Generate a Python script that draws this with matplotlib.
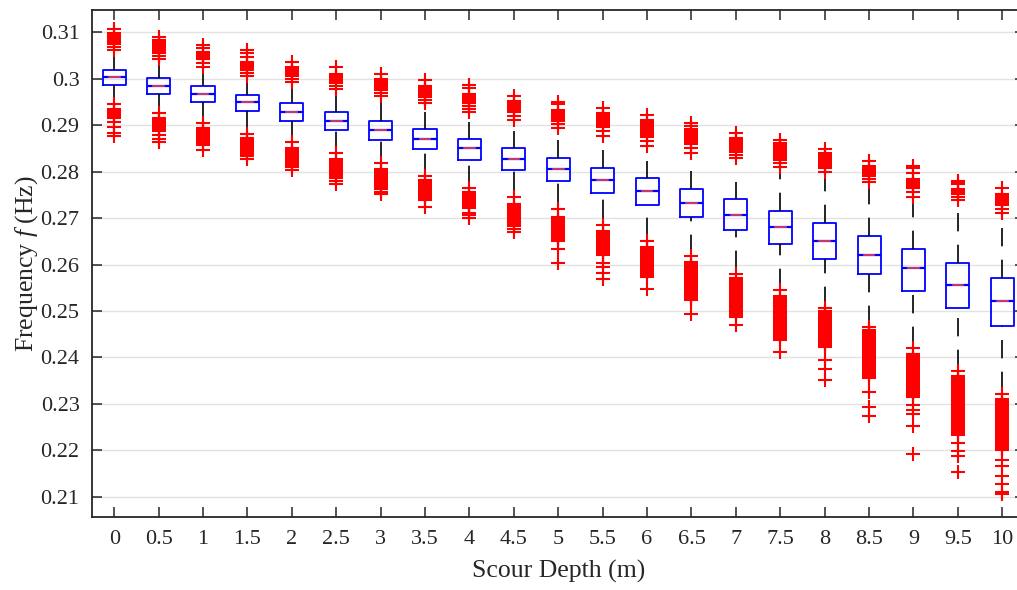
import matplotlib
matplotlib.use("Agg")
import matplotlib.pyplot as plt
from matplotlib.ticker import FixedLocator, FixedFormatter

# Scour depth categories (m)
depth_labels = ['0', '0.5', '1', '1.5', '2', '2.5', '3', '3.5', '4', '4.5', '5',
                '5.5', '6', '6.5', '7', '7.5', '8', '8.5', '9', '9.5', '10']

# Box statistics of the natural frequency (Hz) for each scour depth
q1 = [0.2987, 0.2968, 0.2950, 0.2931, 0.2910, 0.2889, 0.2869, 0.2848, 0.2826, 0.2804, 0.2779,
      0.2755, 0.2728, 0.2702, 0.2674, 0.2644, 0.2612, 0.2579, 0.2544, 0.2507, 0.2468]
median = [0.3004, 0.2985, 0.2967, 0.2950, 0.2929, 0.2909, 0.2890, 0.2870, 0.2850, 0.2828, 0.2806,
          0.2783, 0.2759, 0.2733, 0.2707, 0.2680, 0.2651, 0.2621, 0.2592, 0.2557, 0.2521]
q3 = [0.3020, 0.3001, 0.2984, 0.2966, 0.2947, 0.2929, 0.2910, 0.2891, 0.2871, 0.2850, 0.2830,
      0.2809, 0.2786, 0.2763, 0.2741, 0.2715, 0.2689, 0.2661, 0.2633, 0.2603, 0.2571]
whisker_low = [0.2952, 0.2934, 0.2913, 0.2891, 0.2870, 0.2847, 0.2825, 0.2799, 0.2773, 0.2760, 0.2735,
               0.2700, 0.2662, 0.2624, 0.2590, 0.2552, 0.2513, 0.2473, 0.2427, 0.2378, 0.2330]
whisker_high = [0.3055, 0.3035, 0.3021, 0.3001, 0.2985, 0.2969, 0.2949, 0.2928, 0.2908, 0.2888, 0.2868,
                0.2847, 0.2824, 0.2802, 0.2778, 0.2800, 0.2789, 0.2771, 0.2732, 0.2728, 0.2692]

# Outliers above the upper whisker
outliers_high = [
    [0.3108, 0.3098, 0.3094, 0.3090, 0.3086, 0.3082, 0.3078, 0.3074, 0.3068, 0.3062],
    [0.3091, 0.3084, 0.3080, 0.3076, 0.3072, 0.3068, 0.3064, 0.3060, 0.3056, 0.3050, 0.3043],
    [0.3073, 0.3066, 0.3058, 0.3054, 0.3050, 0.3046, 0.3042, 0.3034, 0.3026],
    [0.3061, 0.3055, 0.3047, 0.3036, 0.3032, 0.3028, 0.3024, 0.3020, 0.3012, 0.3007],
    [0.3037, 0.3026, 0.3022, 0.3018, 0.3014, 0.3010, 0.3006, 0.2999, 0.2993],
    [0.3026, 0.3011, 0.3007, 0.3003, 0.2999, 0.2995, 0.2991, 0.2985, 0.2978],
    [0.3011, 0.3000, 0.2996, 0.2992, 0.2988, 0.2984, 0.2980, 0.2976, 0.2970, 0.2963],
    [0.2998, 0.2985, 0.2981, 0.2977, 0.2973, 0.2969, 0.2965, 0.2961, 0.2955, 0.2948],
    [0.2987, 0.2980, 0.2967, 0.2963, 0.2959, 0.2955, 0.2951, 0.2947, 0.2942, 0.2936, 0.2929],
    [0.2962, 0.2952, 0.2948, 0.2944, 0.2940, 0.2936, 0.2932, 0.2928, 0.2920, 0.2911],
    [0.2950, 0.2945, 0.2933, 0.2929, 0.2925, 0.2921, 0.2917, 0.2913, 0.2909, 0.2902, 0.2895],
    [0.2937, 0.2927, 0.2924, 0.2920, 0.2916, 0.2912, 0.2908, 0.2904, 0.2900, 0.2896, 0.2887, 0.2877],
    [0.2922, 0.2911, 0.2907, 0.2903, 0.2899, 0.2895, 0.2891, 0.2887, 0.2883, 0.2879, 0.2875, 0.2865, 0.2855],
    [0.2904, 0.2898, 0.2892, 0.2888, 0.2884, 0.2880, 0.2876, 0.2872, 0.2868, 0.2864, 0.2860, 0.2850, 0.2841],
    [0.2884, 0.2873, 0.2869, 0.2865, 0.2861, 0.2857, 0.2853, 0.2849, 0.2845, 0.2842, 0.2835, 0.2829],
    [0.2868, 0.2861, 0.2858, 0.2854, 0.2850, 0.2846, 0.2842, 0.2838, 0.2834, 0.2830, 0.2825, 0.2818, 0.2810],
    [0.2848, 0.2840, 0.2836, 0.2832, 0.2828, 0.2824, 0.2820, 0.2816, 0.2812, 0.2808, 0.2800],
    [0.2824, 0.2812, 0.2808, 0.2804, 0.2800, 0.2796, 0.2791, 0.2784, 0.2778],
    [0.2812, 0.2809, 0.2797, 0.2784, 0.2780, 0.2776, 0.2772, 0.2768, 0.2764, 0.2757, 0.2745],
    [0.2781, 0.2776, 0.2773, 0.2763, 0.2759, 0.2755, 0.2751, 0.2745, 0.2738],
    [0.2764, 0.2752, 0.2748, 0.2744, 0.2740, 0.2736, 0.2732, 0.2728, 0.2720, 0.2710],
]

# Outliers below the lower whisker
outliers_low = [
    [0.2946, 0.2936, 0.2932, 0.2928, 0.2924, 0.2920, 0.2916, 0.2908, 0.2897, 0.2884, 0.2877],
    [0.2926, 0.2916, 0.2912, 0.2908, 0.2904, 0.2900, 0.2896, 0.2892, 0.2888, 0.2879, 0.2870, 0.2864],
    [0.2904, 0.2894, 0.2890, 0.2886, 0.2882, 0.2878, 0.2874, 0.2870, 0.2866, 0.2862, 0.2858, 0.2847],
    [0.2882, 0.2873, 0.2869, 0.2865, 0.2861, 0.2857, 0.2853, 0.2849, 0.2845, 0.2841, 0.2837, 0.2834, 0.2828],
    [0.2864, 0.2851, 0.2847, 0.2843, 0.2839, 0.2835, 0.2831, 0.2827, 0.2823, 0.2819, 0.2815, 0.2811, 0.2803],
    [0.2840, 0.2827, 0.2823, 0.2819, 0.2815, 0.2811, 0.2807, 0.2803, 0.2799, 0.2795, 0.2791, 0.2787,
     0.2780, 0.2773],
    [0.2818, 0.2806, 0.2802, 0.2798, 0.2794, 0.2790, 0.2786, 0.2782, 0.2778, 0.2774, 0.2770, 0.2766,
     0.2762, 0.2757, 0.2751],
    [0.2790, 0.2782, 0.2778, 0.2774, 0.2770, 0.2766, 0.2762, 0.2758, 0.2754, 0.2750, 0.2746, 0.2742,
     0.2739, 0.2723],
    [0.2765, 0.2756, 0.2752, 0.2748, 0.2744, 0.2740, 0.2736, 0.2732, 0.2728, 0.2724, 0.2722, 0.2711,
     0.2707, 0.2700],
    [0.2745, 0.2730, 0.2726, 0.2722, 0.2718, 0.2714, 0.2710, 0.2706, 0.2702, 0.2698, 0.2694, 0.2690,
     0.2686, 0.2682, 0.2677, 0.2670],
    [0.2720, 0.2702, 0.2698, 0.2694, 0.2690, 0.2686, 0.2682, 0.2678, 0.2674, 0.2670, 0.2666, 0.2662,
     0.2658, 0.2654, 0.2651, 0.2633, 0.2603],
    [0.2685, 0.2672, 0.2668, 0.2664, 0.2660, 0.2656, 0.2652, 0.2648, 0.2644, 0.2640, 0.2636, 0.2632,
     0.2628, 0.2624, 0.2620, 0.2604, 0.2594, 0.2582, 0.2568],
    [0.2651, 0.2638, 0.2634, 0.2630, 0.2626, 0.2622, 0.2618, 0.2614, 0.2610, 0.2606, 0.2602, 0.2598,
     0.2594, 0.2590, 0.2586, 0.2582, 0.2578, 0.2574, 0.2547],
    [0.2618, 0.2605, 0.2601, 0.2597, 0.2593, 0.2589, 0.2585, 0.2581, 0.2577, 0.2573, 0.2569, 0.2565,
     0.2561, 0.2557, 0.2553, 0.2549, 0.2545, 0.2541, 0.2537, 0.2533, 0.2529, 0.2525, 0.2523, 0.2493],
    [0.2580, 0.2571, 0.2567, 0.2563, 0.2559, 0.2555, 0.2551, 0.2547, 0.2543, 0.2539, 0.2535, 0.2531,
     0.2527, 0.2523, 0.2519, 0.2515, 0.2511, 0.2507, 0.2503, 0.2499, 0.2495, 0.2491, 0.2487, 0.2470],
    [0.2545, 0.2532, 0.2528, 0.2524, 0.2520, 0.2516, 0.2512, 0.2508, 0.2504, 0.2500, 0.2496, 0.2492,
     0.2488, 0.2484, 0.2480, 0.2476, 0.2472, 0.2468, 0.2464, 0.2460, 0.2456, 0.2452, 0.2448, 0.2444,
     0.2440, 0.2437, 0.2412],
    [0.2506, 0.2500, 0.2496, 0.2492, 0.2488, 0.2484, 0.2480, 0.2476, 0.2472, 0.2468, 0.2464, 0.2460,
     0.2456, 0.2452, 0.2448, 0.2444, 0.2440, 0.2436, 0.2432, 0.2428, 0.2425, 0.2422, 0.2394, 0.2376,
     0.2351],
    [0.2466, 0.2460, 0.2456, 0.2452, 0.2448, 0.2444, 0.2440, 0.2436, 0.2432, 0.2428, 0.2424, 0.2420,
     0.2416, 0.2412, 0.2408, 0.2404, 0.2400, 0.2396, 0.2392, 0.2388, 0.2384, 0.2380, 0.2376, 0.2372,
     0.2368, 0.2364, 0.2360, 0.2356, 0.2326, 0.2294, 0.2273],
    [0.2420, 0.2407, 0.2403, 0.2399, 0.2395, 0.2391, 0.2387, 0.2383, 0.2379, 0.2375, 0.2371, 0.2367,
     0.2363, 0.2359, 0.2355, 0.2351, 0.2347, 0.2343, 0.2339, 0.2335, 0.2331, 0.2327, 0.2323, 0.2319,
     0.2315, 0.2298, 0.2287, 0.2279, 0.2252, 0.2193],
    [0.2370, 0.2360, 0.2356, 0.2352, 0.2348, 0.2344, 0.2340, 0.2336, 0.2332, 0.2328, 0.2324, 0.2320,
     0.2316, 0.2312, 0.2308, 0.2304, 0.2300, 0.2296, 0.2292, 0.2288, 0.2284, 0.2280, 0.2276, 0.2272,
     0.2268, 0.2264, 0.2260, 0.2256, 0.2252, 0.2248, 0.2244, 0.2240, 0.2236, 0.2233, 0.2215, 0.2199,
     0.2187, 0.2153],
    [0.2322, 0.2310, 0.2306, 0.2302, 0.2298, 0.2294, 0.2290, 0.2286, 0.2282, 0.2278, 0.2274, 0.2270,
     0.2266, 0.2262, 0.2258, 0.2254, 0.2250, 0.2246, 0.2242, 0.2238, 0.2234, 0.2230, 0.2226, 0.2222,
     0.2218, 0.2214, 0.2210, 0.2206, 0.2202, 0.2200, 0.2179, 0.2166, 0.2144, 0.2128, 0.2110, 0.2105],
]

freq_ticks = [0.21, 0.22, 0.23, 0.24, 0.25, 0.26, 0.27, 0.28, 0.29, 0.30, 0.31]
freq_tick_labels = ['0.21', '0.22', '0.23', '0.24', '0.25', '0.26', '0.27', '0.28', '0.29', '0.3', '0.31']

plt.rcParams['font.family'] = ['Liberation Serif', 'DejaVu Serif']
plt.rcParams['mathtext.fontset'] = 'custom'
plt.rcParams['mathtext.rm'] = 'Liberation Serif'
plt.rcParams['mathtext.it'] = 'Liberation Serif:italic'

fig = plt.figure(figsize=(10.17, 5.90), dpi=100)
ax = fig.add_axes([92 / 1017, 1 - 517 / 590, (1024.5 - 92) / 1017, (517 - 10) / 590])

positions = list(range(len(depth_labels)))
stats = []
for i in positions:
    stats.append(dict(med=median[i], q1=q1[i], q3=q3[i],
                      whislo=whisker_low[i], whishi=whisker_high[i],
                      fliers=outliers_high[i] + outliers_low[i]))

parts = ax.bxp(stats, positions=positions, widths=0.52, showcaps=False,
               boxprops=dict(color='#0000ff', linewidth=1.3),
               medianprops=dict(color='#0000ff', linewidth=1.6),
               whiskerprops=dict(color='black', linewidth=1.2, linestyle=(0, (11, 8))),
               flierprops=dict(marker='+', markeredgecolor='#ff0000', markersize=10.5,
                               markeredgewidth=1.5, linestyle='none'))

# whiskers dashed from the low end upward
for w in parts['whiskers']:
    xs, ys = w.get_data()
    if ys[0] > ys[1]:
        w.set_data(xs[::-1], ys[::-1])

# red centre part of each median line
for i in positions:
    ax.plot([i - 0.12, i + 0.12], [median[i], median[i]], color='#ff4a4a', lw=1.1, zorder=3)

ax.set_xlim(-0.5, 20.5)
ax.set_ylim(0.20563, 0.31482)
ax.xaxis.set_major_locator(FixedLocator(positions))
ax.xaxis.set_major_formatter(FixedFormatter(depth_labels))
ax.yaxis.set_major_locator(FixedLocator(freq_ticks))
ax.yaxis.set_major_formatter(FixedFormatter(freq_tick_labels))

ax.yaxis.grid(True, color='#e2e2e2', linewidth=1.0)
ax.set_axisbelow(True)

ax.tick_params(direction='in', length=7, width=1.1, top=True, right=True,
               labelsize=16, colors='#262626', pad=9)
for s in ax.spines.values():
    s.set_linewidth(1.3)
    s.set_color('#262626')

ax.set_xlabel('Scour Depth (m)', fontsize=18.5, color='#262626', labelpad=8)
ax.set_ylabel('Frequency $f$ (Hz)', fontsize=18.5, color='#262626', labelpad=0)

fig.savefig('out.png', dpi=100)
